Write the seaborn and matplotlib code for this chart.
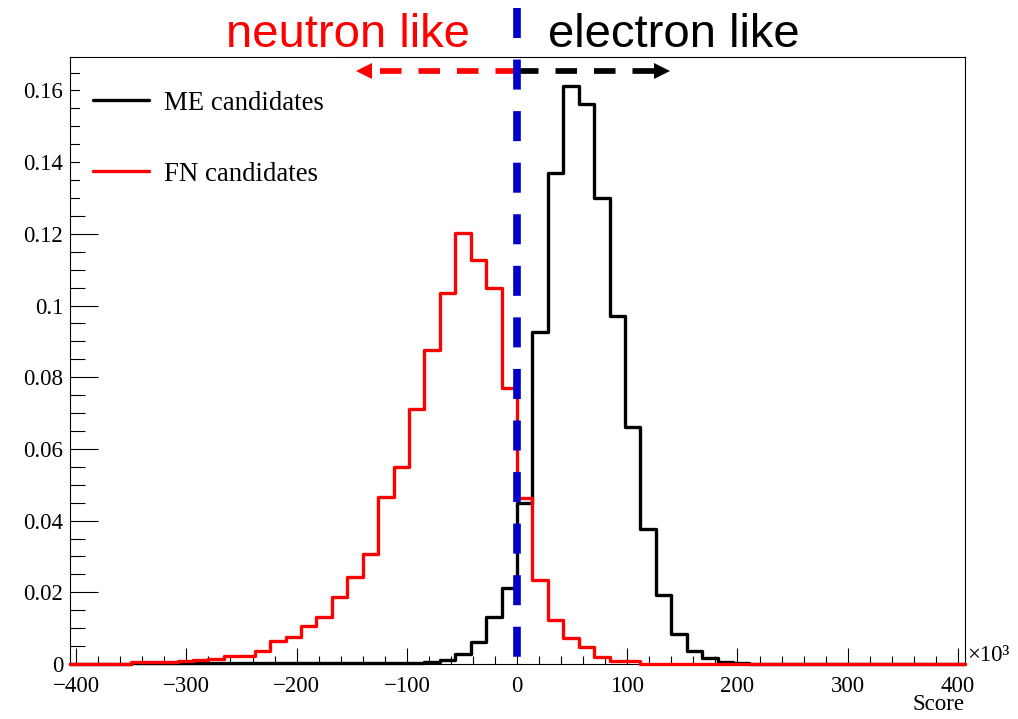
import numpy as np
import pandas as pd
import matplotlib
matplotlib.use("Agg")
import matplotlib.pyplot as plt
from matplotlib.patches import Rectangle
from matplotlib.lines import Line2D
from matplotlib.ticker import MultipleLocator, FixedLocator, FuncFormatter
import seaborn as sns

# ---------------- data ----------------
bin_range = (-406.0, 406.0)   # histogram range (x10^3)
n_bins = 58

# ME candidates (black), one value per bin, left to right
me_values = [
    0, 0, 0, 0, 0.0002, 0.0002, 0.0002, 0.0002, 0.0002, 0.0002,
    0.0002, 0.0002, 0.0002, 0.0002, 0.0002, 0.0002, 0.0002, 0.0002, 0.0002, 0.0002,
    0.0003, 0.0003, 0.0003, 0.0005, 0.0010, 0.0028, 0.0062, 0.0130, 0.0211, 0.0448,
    0.0927, 0.1369, 0.1613, 0.1561, 0.1299, 0.0971, 0.0662, 0.0376, 0.0192, 0.0083,
    0.0036, 0.0016, 0.0006, 0.0002, 0.0001, 0, 0, 0, 0, 0,
    0, 0, 0, 0, 0, 0, 0, 0,
]

# FN candidates (red)
fn_values = [
    0, 0, 0, 0, 0.0005, 0.0005, 0.0005, 0.0008, 0.0011, 0.0014,
    0.0023, 0.0023, 0.0036, 0.0064, 0.0076, 0.0107, 0.0132, 0.0188, 0.0242, 0.0306,
    0.0467, 0.0550, 0.0711, 0.0876, 0.1034, 0.1203, 0.1127, 0.1048, 0.0771, 0.0462,
    0.0234, 0.0123, 0.0073, 0.0047, 0.0020, 0.0008, 0.0008, 0, 0, 0,
    0, 0, 0, 0, 0, 0, 0, 0, 0, 0,
    0, 0, 0, 0, 0, 0, 0, 0,
]

series_labels = ["ME candidates", "FN candidates"]
series_colors = ["#000000", "#ff0000"]
x_ticks = [-400, -300, -200, -100, 0, 100, 200, 300, 400]
y_ticks = [0, 0.02, 0.04, 0.06, 0.08, 0.1, 0.12, 0.14, 0.16]
y_max = 0.1694
cut_value = 0.0

# ---------------- style ----------------
sns.set_style("white")
plt.rcParams["font.family"] = ["Liberation Serif", "DejaVu Serif"]
plt.rcParams["axes.linewidth"] = 0.8
plt.rcParams["axes.edgecolor"] = "black"
plt.rcParams["text.color"] = "black"
plt.rcParams["axes.labelcolor"] = "black"
plt.rcParams["xtick.color"] = "black"
plt.rcParams["ytick.color"] = "black"

fig = plt.figure(figsize=(10.18, 7.19), dpi=100)
ax = fig.add_axes([0.0683, 0.0765, 0.8792, 0.8446])

edges = np.linspace(bin_range[0], bin_range[1], n_bins + 1)
centers = 0.5 * (edges[:-1] + edges[1:])

df = pd.DataFrame({
    "score": np.concatenate([centers, centers]),
    "weight": np.concatenate([me_values, fn_values]),
    "sample": [series_labels[0]] * n_bins + [series_labels[1]] * n_bins,
})

for lab, col, z in zip(series_labels, series_colors, [3, 3.2]):
    sns.histplot(data=df[df["sample"] == lab], x="score", weights="weight",
                 bins=n_bins, binrange=bin_range, element="step", fill=False,
                 color=col, linewidth=2.4, clip_on=False, zorder=z, ax=ax)

ax.set_xlim(bin_range)
ax.set_ylim(0, y_max)
ax.set_ylabel("")

# ticks
ax.xaxis.set_major_locator(FixedLocator(x_ticks))
ax.xaxis.set_minor_locator(MultipleLocator(20))
ax.yaxis.set_major_locator(FixedLocator(y_ticks))
ax.yaxis.set_minor_locator(MultipleLocator(0.005))
ax.yaxis.set_major_formatter(FuncFormatter(lambda v, p: "%g" % v))
ax.xaxis.set_major_formatter(FuncFormatter(lambda v, p: ("\u2212%g" % -v) if v < 0 else "%g" % v))
ax.tick_params(axis="both", which="both", direction="in", width=0.8,
               bottom=True, left=True, top=False, right=False,
               labelsize=16.5, colors="black")
ax.tick_params(axis="y", which="major", length=20, pad=4.5)
ax.tick_params(axis="y", which="minor", length=10.8)
ax.tick_params(axis="x", which="major", length=11.5, pad=8.5)
ax.tick_params(axis="x", which="minor", length=5.5)
for s in ax.spines.values():
    s.set_visible(True)
    s.set_color("black")
    s.set_linewidth(0.8)

ax.set_xlabel("Score", loc="right", fontsize=16.5, color="black")
ax.xaxis.label.set_va("center")
ax.xaxis.set_label_coords(1.0, -0.0675)
ax.text(1.0028, 0.0135, "\u00d710\u00b3", transform=ax.transAxes, ha="left",
        va="center", fontsize=16.5, color="black", clip_on=False)

# legend box (white fill covering ticks) + legend
ax.add_patch(Rectangle((0.0117, 0.754), 0.29, 0.2439, transform=ax.transAxes,
                       facecolor="white", edgecolor="none", zorder=4))
handles = [Line2D([], [], color=c, lw=2.4) for c in series_colors]
ax.legend(handles, series_labels, loc="upper left", bbox_to_anchor=(0.02626, 0.944),
          frameon=False, borderpad=0, borderaxespad=0, handlelength=2.08,
          handletextpad=0.57, labelspacing=1.72, labelcolor="black",
          prop={"family": "Liberation Serif", "size": 19.3})

# cut line and direction arrows
ax.plot([cut_value, cut_value], [0.183, 0], color="#0000cc", lw=5.5,
        dashes=(3.93, 2.82), dash_capstyle="butt", clip_on=False, zorder=6)
arrow_y = 0.1654
ax.plot([cut_value, -131.3], [arrow_y, arrow_y], color="#ff0000", lw=4.1,
        dashes=(3.78, 2.98), dash_capstyle="butt", zorder=5)
ax.plot([-138.4], [arrow_y], marker="<", markersize=11.5, color="#ff0000",
        markeredgewidth=0, zorder=5)
ax.plot([cut_value, 124.4], [arrow_y, arrow_y], color="#000000", lw=4.1,
        dashes=(3.78, 2.98), dash_capstyle="butt", zorder=5)
ax.plot([131.7], [arrow_y], marker=">", markersize=11.5, color="#000000",
        markeredgewidth=0, zorder=5)

fig.text(470 / 1018, 1 - 47 / 719, "neutron like", color="#ff0000", ha="right",
         va="baseline", fontsize=34, family=["Liberation Sans", "DejaVu Sans"])
fig.text(548 / 1018, 1 - 47 / 719, "electron like", color="#000000", ha="left",
         va="baseline", fontsize=34, family=["Liberation Sans", "DejaVu Sans"])

fig.savefig("out.png", dpi=100)
